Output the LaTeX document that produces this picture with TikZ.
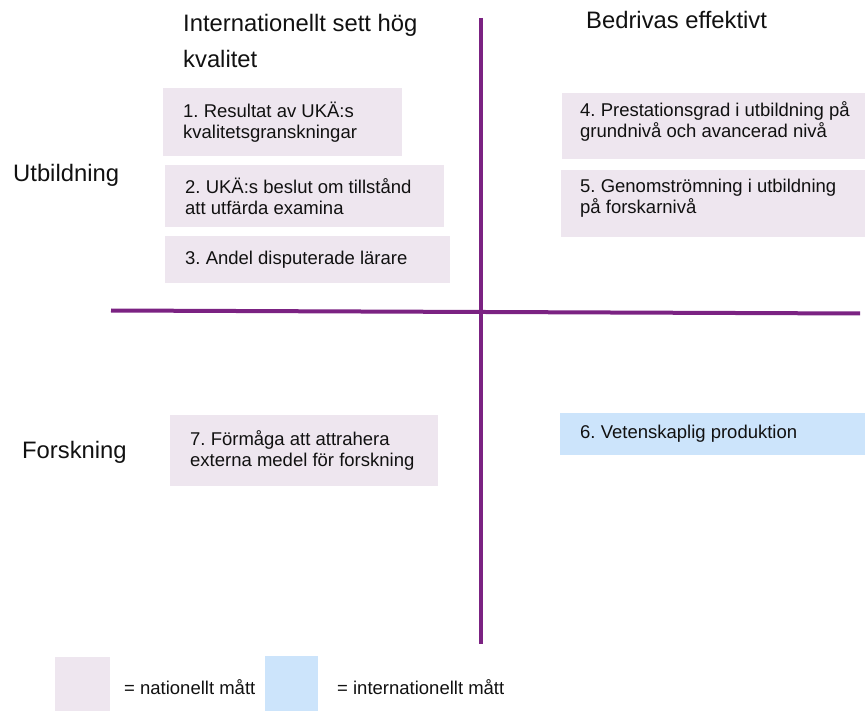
\documentclass[tikz,border=0pt]{standalone}
\usepackage{fontspec}
\setmainfont{Liberation Sans}
\frenchspacing
\definecolor{natpink}{HTML}{EEE6EF}
\definecolor{intblue}{HTML}{CCE4FB}
\definecolor{axispurple}{HTML}{7B2282}
\definecolor{textblack}{HTML}{111111}
\begin{document}
\frenchspacing
\begin{tikzpicture}[x=1pt,y=-1pt,
  boxbg/.style={fill=#1, draw=none, anchor=north west, inner sep=0pt},
  boxtext/.style={anchor=west, align=left, inner sep=0pt, text=textblack,
    font=\fontsize{18.5}{21}\selectfont},
  head/.style={anchor=base west, inner sep=0pt, text=textblack,
    font=\fontsize{23.8}{28}\selectfont},
  legtext/.style={anchor=base west, inner sep=0pt, text=textblack,
    font=\fontsize{18.5}{21}\selectfont},
  axisline/.style={draw=axispurple, line width=4pt}]
\useasboundingbox (0,0) rectangle (865,711);

% axes
\coordinate (vtop) at (481,18);
\coordinate (vbot) at (481,644);
\coordinate (hleft) at (111,310.5);
\coordinate (hright) at (860,313.5);
\draw[axisline] (vtop) -- (vbot);
\draw[axisline] (hleft) -- (hright);

% headers
\node[head] (h1) at (183,32) {Internationellt sett hög};
\node[head] (h1b) at (183,68) {kvalitet};
\node[head] (h2) at (586,28.5) {Bedrivas effektivt};
\node[head] (r1) at (13,181.5) {Utbildning};
\node[head] (r2) at (22,458) {Forskning};

% boxes
\node[boxbg=natpink, minimum width=239pt, minimum height=68pt] (b1) at (163,88) {};
\node[boxtext] (t1) at ([xshift=20pt]b1.west) {1. Resultat av UKÄ:s\\kvalitetsgranskningar};

\node[boxbg=natpink, minimum width=279pt, minimum height=62pt] (b2) at (165,165) {};
\node[boxtext] (t2) at ([xshift=20pt]b2.west) {2. UKÄ:s beslut om tillstånd\\att utfärda examina};

\node[boxbg=natpink, minimum width=285pt, minimum height=47pt] (b3) at (165,236) {};
\node[boxtext] (t3) at ([xshift=20pt]b3.west) {3. Andel disputerade lärare};

\node[boxbg=natpink, minimum width=303pt, minimum height=66pt] (b4) at (562,93) {};
\node[boxtext] (t4) at ([xshift=18pt,yshift=5pt]b4.west) {4. Prestationsgrad i utbildning på\\grundnivå och avancerad nivå};

\node[boxbg=natpink, minimum width=304pt, minimum height=67pt] (b5) at (561,170) {};
\node[boxtext] (t5) at ([xshift=19pt,yshift=5pt]b5.west) {5. Genomströmning i utbildning\\på forskarnivå};

\node[boxbg=intblue, minimum width=305pt, minimum height=42pt] (b6) at (560,413) {};
\node[boxtext] (t6) at ([xshift=20pt]b6.west) {6. Vetenskaplig produktion};

\node[boxbg=natpink, minimum width=268pt, minimum height=71pt] (b7) at (170,415) {};
\node[boxtext] (t7) at ([xshift=20pt]b7.west) {7. Förmåga att attrahera\\externa medel för forskning};

% legend
\node[boxbg=natpink, minimum width=55pt, minimum height=54pt] (l1) at (55,657) {};
\node[legtext] (lt1) at (124,694) {= nationellt mått};
\node[boxbg=intblue, minimum width=53pt, minimum height=55pt] (l2) at (265,656) {};
\node[legtext] (lt2) at (337,694) {= internationellt mått};
\end{tikzpicture}
\end{document}
